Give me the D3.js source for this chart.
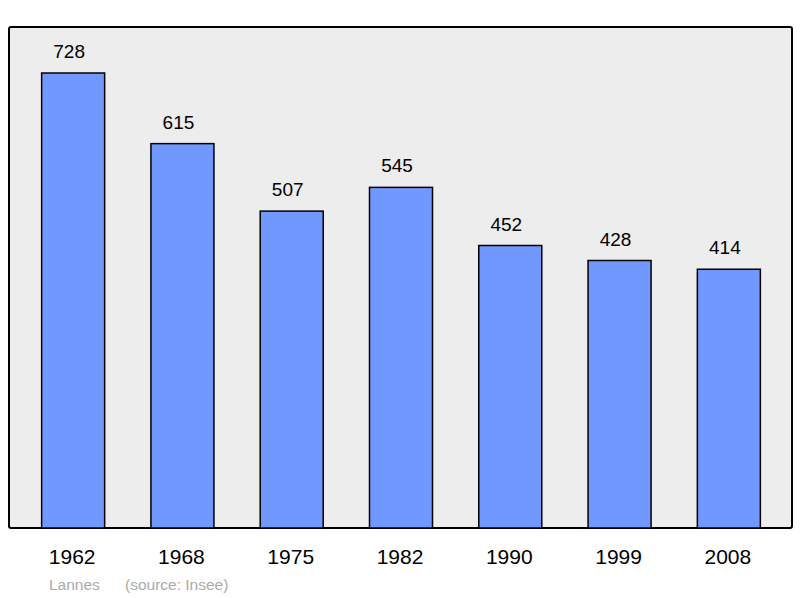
<!DOCTYPE html>
<html><head><meta charset="utf-8">
<script src="https://cdn.jsdelivr.net/npm/d3@7"></script>
<style>body{margin:0;background:#fff}</style>
</head><body>
<script>
var years = ["1962","1968","1975","1982","1990","1999","2008"];
var population = [728,615,507,545,452,428,414];

var svg = d3.select("body").append("svg").attr("width",800).attr("height",598)
    .style("font-family","Liberation Sans, Arial, sans-serif");

svg.append("rect").attr("x",9).attr("y",27).attr("width",783).attr("height",501)
    .attr("rx",2).attr("fill","#ededed").attr("stroke","#000").attr("stroke-width",2);

var x = d3.scaleBand().domain(years).range([18.5,783.5]);
var y = d3.scaleLinear().domain([0,728]).range([528,73]);
var bw = 63;

var g = svg.selectAll("g.bar").data(years).enter().append("g");
g.append("rect")
    .attr("x",function(d){ return x(d)+x.bandwidth()/2-bw/2; })
    .attr("y",function(d,i){ return y(population[i]); })
    .attr("width",bw)
    .attr("height",function(d,i){ return y(0)-y(population[i]); })
    .attr("fill","#7098ff").attr("stroke","#000").attr("stroke-width",1.5);
g.append("text")
    .attr("x",function(d){ return x(d)+x.bandwidth()/2-4; })
    .attr("y",function(d,i){ return y(population[i])-15; })
    .attr("text-anchor","middle").attr("font-size",19)
    .text(function(d,i){ return population[i]; });
g.append("text")
    .attr("x",function(d){ return x(d)+x.bandwidth()/2-1; })
    .attr("y",564).attr("text-anchor","middle").attr("font-size",21)
    .text(function(d){ return d; });

svg.append("text").attr("x",49).attr("y",590).attr("font-size",15.5).attr("fill","#aaa")
    .text("Lannes");
svg.append("text").attr("x",125).attr("y",590).attr("font-size",15.5).attr("fill","#aaa")
    .text("(source: Insee)");
</script>
</body></html>
